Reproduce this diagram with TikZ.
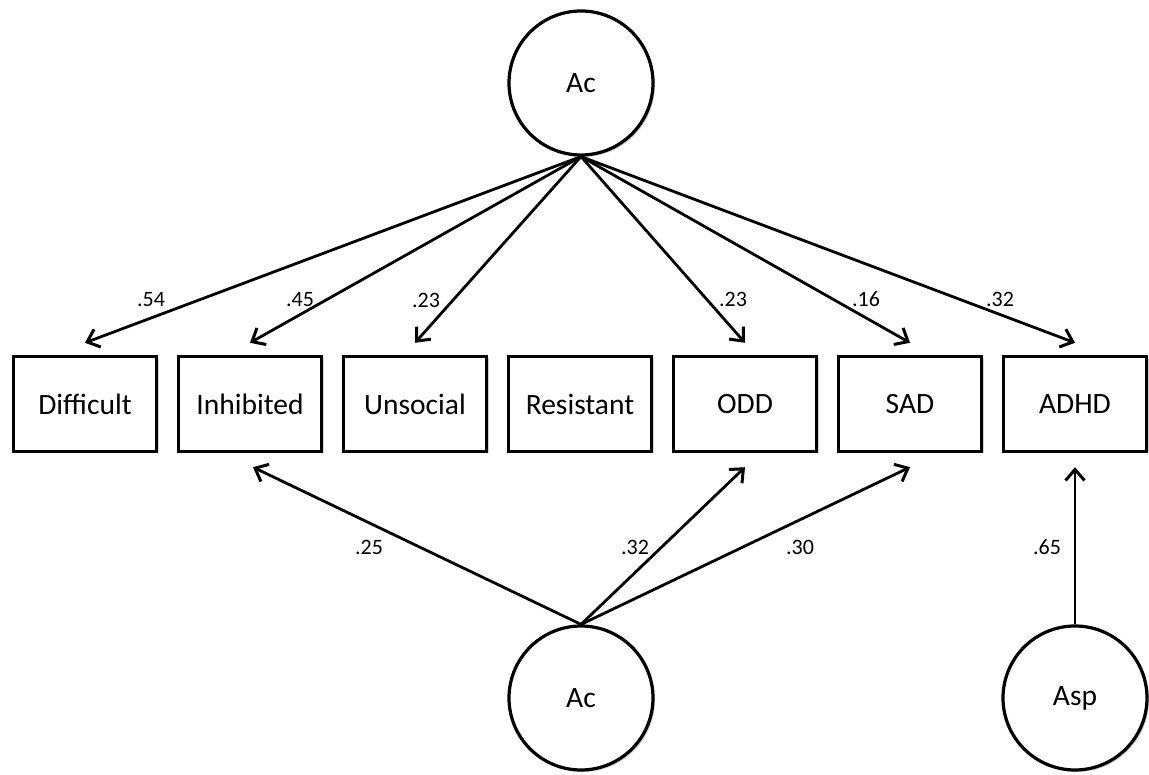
\documentclass[tikz,border=0pt]{standalone}
\usepackage{fontspec}
\setmainfont{Carlito}
\usepackage{xcolor}
\usepackage{tikz}
\usetikzlibrary{positioning,arrows.meta,calc,shadows}
\definecolor{cnegro}{HTML}{000000}
\definecolor{csombra}{HTML}{7F7F7F}
\tikzset{
  caja/.style={rectangle, draw=cnegro, line width=3.4pt, fill=white,
    minimum width=143pt, minimum height=95pt, inner sep=0pt,
    font=\fontsize{29.5}{34}\selectfont,
    drop shadow={fill=csombra, opacity=.35, shadow xshift=2pt, shadow yshift=-2pt}},
  circulo/.style={circle, draw=cnegro, line width=3.2pt, fill=white,
    minimum size=144pt, inner sep=0pt, font=\fontsize{29.5}{34}\selectfont,
    drop shadow={fill=csombra, opacity=.35, shadow xshift=2pt, shadow yshift=-2pt}},
  flecha/.style={-{Straight Barb[length=11pt, width=19pt, line width=3pt]},
    line width=2.8pt, draw=cnegro},
  etq/.style={font=\fontsize{22}{26}\selectfont, inner sep=0pt},
}
\begin{document}
\begin{tikzpicture}[x=1pt, y=1pt, node distance=18.6pt]
  \useasboundingbox (0,0) rectangle (1149,775);
  % factores latentes
  \node[circulo] (acs) at (581,692) {Ac};
  \node[circulo] (aci) at (581,77) {Ac};
  \node[circulo] (asp) at (1075,77) {Asp};
  % indicadores
  \node[caja] (dif) at (85,371) {Difficult};
  \node[caja, right=of dif] (inh) {Inhibited};
  \node[caja, right=of inh] (uns) {Unsocial};
  \node[caja, right=of uns] (res) {Resistant};
  \node[caja, right=of res] (odd) {ODD};
  \node[caja, right=of odd] (sad) {SAD};
  \node[caja, right=of sad] (adhd) {ADHD};
  % cargas del factor superior
  \draw[flecha] (acs.south) -- ($(dif.north)+(0,12)$);
  \draw[flecha] (acs.south) -- ($(inh.north)+(0,12)$);
  \draw[flecha] (acs.south) -- ($(uns.north)+(0,12)$);
  \draw[flecha] (acs.south) -- ($(odd.north)+(0,12)$);
  \draw[flecha] (acs.south) -- ($(sad.north)+(0,12)$);
  \draw[flecha] (acs.south) -- ($(adhd.north)+(0,12)$);
  % cargas de los factores inferiores
  \draw[flecha] (aci.north) -- ($(inh.south)+(3,-14)$);
  \draw[flecha] (aci.north) -- ($(odd.south)+(0,-14)$);
  \draw[flecha] (aci.north) -- ($(sad.south)+(0,-14)$);
  \draw[flecha] (asp.north) -- ($(adhd.south)+(0,-14)$);
  % coeficientes
  \node[etq] (e1) at (151,475) {.54};
  \node[etq] (e2) at (300,475) {.45};
  \node[etq] (e3) at (426,475) {.23};
  \node[etq] (e4) at (733,476) {.23};
  \node[etq] (e5) at (866,476) {.16};
  \node[etq] (e6) at (1000,476) {.32};
  \node[etq] (e7) at (369,228) {.25};
  \node[etq] (e8) at (635,228) {.32};
  \node[etq] (e9) at (800,228) {.30};
  \node[etq] (e10) at (1047,228) {.65};
\end{tikzpicture}
\end{document}
